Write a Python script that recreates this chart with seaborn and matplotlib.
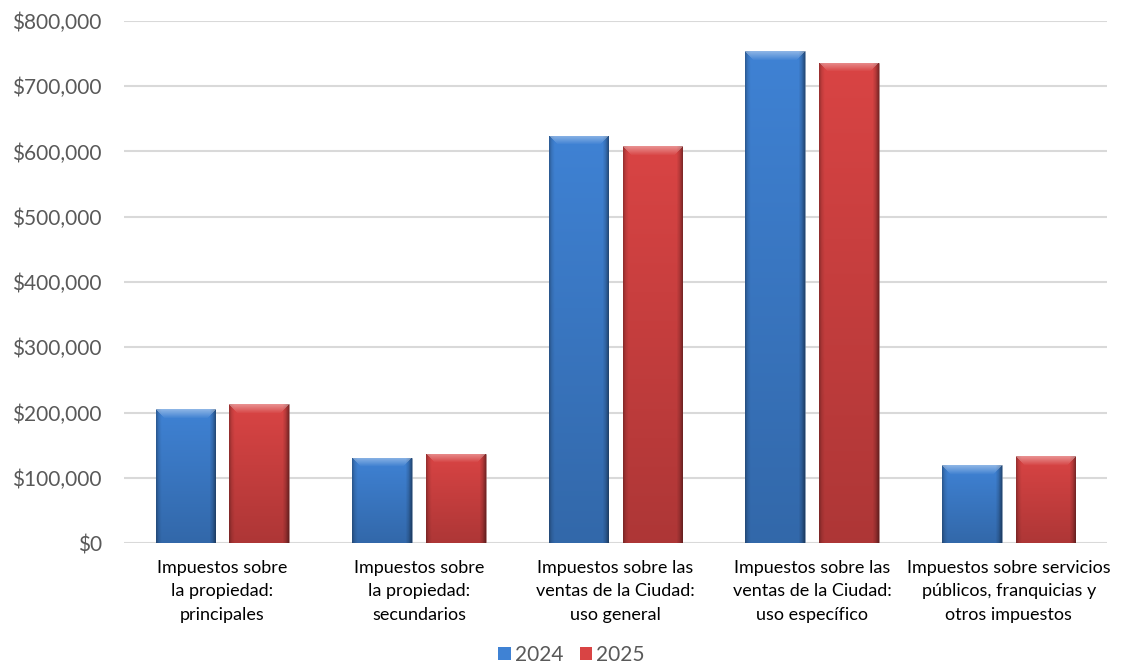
import numpy as np
import pandas as pd
import matplotlib
matplotlib.use("Agg")
import matplotlib.pyplot as plt
import seaborn as sns
from matplotlib.colors import to_rgb
from matplotlib.patches import Patch
from matplotlib.ticker import FuncFormatter

# datos del gráfico
categorias = [
    "Impuestos sobre\nla propiedad:\nprincipales",
    "Impuestos sobre\nla propiedad:\nsecundarios",
    "Impuestos sobre las\nventas de la Ciudad:\nuso general",
    "Impuestos sobre las\nventas de la Ciudad:\nuso específico",
    "Impuestos sobre servicios\npúblicos, franquicias y\notros impuestos",
]
valores_2024 = [205000, 131000, 624000, 754000, 119000]
valores_2025 = [213000, 137000, 608000, 736000, 133000]
anios = ["2024", "2025"]

colores = {"2024": "#3f82d4", "2025": "#d94444"}
gris_texto = "#595959"

df = pd.DataFrame({
    "categoria": categorias * 2,
    "anio": [anios[0]] * len(categorias) + [anios[1]] * len(categorias),
    "valor": valores_2024 + valores_2025,
})

sns.set_theme(style="white")
plt.rcParams["font.family"] = ["Lato", "DejaVu Sans"]

fig = plt.figure(figsize=(11.43, 6.68), dpi=100)
ax = fig.add_axes([124 / 1143, 1 - 543 / 668, (1107 - 124) / 1143, (543 - 21) / 668])

sns.barplot(data=df, x="categoria", y="valor", hue="anio", palette=colores,
            saturation=1, width=0.75, gap=0.19, legend=False, ax=ax, zorder=2)

ax.set_ylim(0, 800000)
ax.set_xlim(-0.5, len(categorias) - 0.5)
ax.set_yticks(np.arange(0, 800001, 100000))
ax.yaxis.set_major_formatter(FuncFormatter(lambda v, p: f"${v:,.0f}"))
ax.grid(axis="y", color="#d9d9d9", linewidth=1.5, zorder=0)
ax.set_axisbelow(True)
for s in ax.spines.values():
    s.set_visible(False)
ax.set_xlabel("")
ax.set_ylabel("")
ax.tick_params(axis="y", length=0, pad=16, labelsize=15, labelcolor=gris_texto)
ax.tick_params(axis="x", length=0, pad=12, labelsize=13, labelcolor="black")
for t in ax.get_xticklabels():
    t.set_linespacing(1.6)

# sombreado tipo bisel sobre cada barra
px_por_valor = ax.get_window_extent().height / 800000
for patch in list(ax.patches):
    x0, y0 = patch.get_x(), patch.get_y()
    w, h = patch.get_width(), patch.get_height()
    base = np.array(to_rgb(patch.get_facecolor()))
    alto_px = max(int(h * px_por_valor), 2)
    ancho_px = 60
    u = np.linspace(0, 1, ancho_px)
    fh = np.interp(u, [0, 0.04, 0.09, 0.9, 0.95, 1], [0.72, 0.9, 1.0, 1.0, 0.85, 0.6])
    v = np.linspace(0, 1, alto_px)
    fv = np.interp(v, [0, 1], [1.0, 0.8])
    img = base[None, None, :] * fh[None, :, None] * fv[:, None, None]
    # franja superior más clara
    bisel = 9
    for r in range(min(bisel, alto_px)):
        borde = r / ancho_px
        mask = (u >= borde) & (u <= 1 - borde)
        claro = 0.4 * (1 - r / bisel)
        img[r, mask] = img[r, mask] + (1 - img[r, mask]) * claro
    img = np.clip(img, 0, 1)
    patch.set_edgecolor((0.45, 0.45, 0.45, 0.5))
    patch.set_linewidth(0.6)
    im = ax.imshow(img, extent=[x0, x0 + w, y0, y0 + h], aspect="auto",
                   origin="upper", zorder=2.5, interpolation="bilinear")
    im.set_clip_path(patch)

ax.set_ylim(0, 800000)
ax.set_xlim(-0.5, len(categorias) - 0.5)

handles = [Patch(facecolor=colores[a], edgecolor="none", label=a) for a in anios]
fig.legend(handles=handles, loc="center", bbox_to_anchor=(0.5, 1 - 655 / 668), ncol=2,
           frameon=False, fontsize=15, handlelength=0.6, handleheight=0.6,
           handletextpad=0.2, columnspacing=0.8, labelcolor=gris_texto)

fig.savefig("out.png", dpi=100)
